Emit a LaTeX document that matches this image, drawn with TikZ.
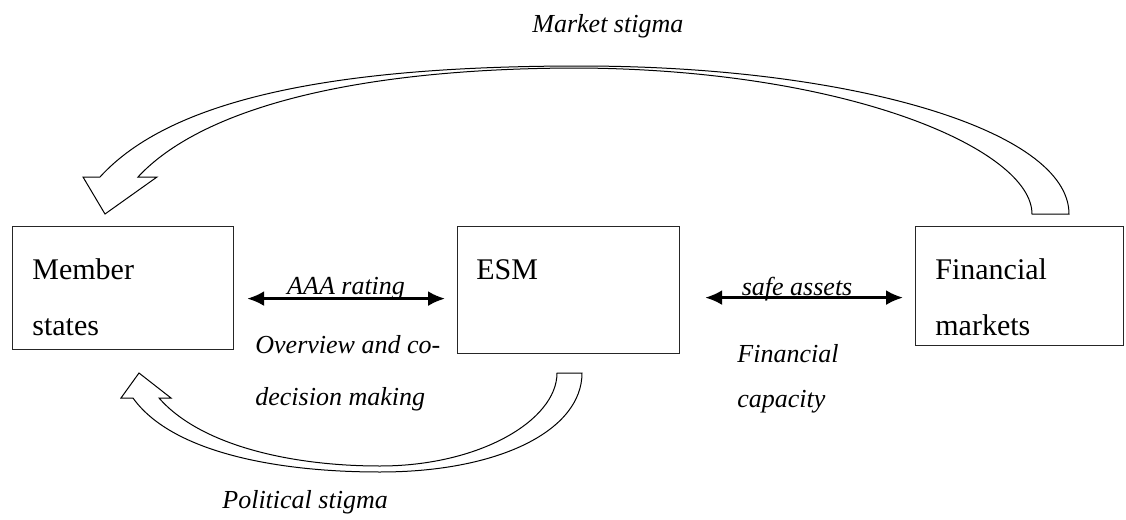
\documentclass[tikz,border=0pt]{standalone}
\usepackage{fontspec}
\setmainfont{Liberation Serif}
\usetikzlibrary{arrows.meta}

\begin{document}
\begin{tikzpicture}[x=0.5pt,y=-0.5pt]
\tikzstyle{box}=[rectangle, draw=black!85, line width=0.6pt, anchor=north west, inner sep=0pt]
\tikzstyle{boxtext}=[anchor=base west, inner sep=0pt, font=\fontsize{15}{18}\selectfont]
\tikzstyle{note}=[anchor=base west, inner sep=0pt, font=\fontsize{13}{16}\selectfont\itshape]
\tikzstyle{connect}=[{Latex[length=8.5pt,width=7.5pt]}-{Latex[length=8.5pt,width=7.5pt]}, line width=1.3pt]
\tikzstyle{bent}=[draw=black, fill=white, line width=0.5pt, line join=miter]
\useasboundingbox (0,0) rectangle (1126,520);
  % member states
  \node[box, minimum width=110.5pt, minimum height=61.5pt] (member) at (12,226) {};
  \node[boxtext] (memberA) at (32,279) {Member};
  \node[boxtext] (memberB) at (32,335) {states};
  % esm
  \node[box, minimum width=111pt, minimum height=63.5pt] (esm) at (457,226) {};
  \node[boxtext] (esmA) at (476,279) {ESM};
  % financial markets
  \node[box, minimum width=104pt, minimum height=59.5pt] (fin) at (915,226) {};
  \node[boxtext] (finA) at (935,279) {Financial};
  \node[boxtext] (finB) at (935,335) {markets};
  % two-way links
  \draw[connect] ([shift={(13,10.5)}]member.east) -- ([shift={(-12,8.5)}]esm.west)
    node[midway, anchor=base, inner sep=0pt, yshift=2pt, font=\fontsize{13}{16}\selectfont\itshape] (aaa) {AAA rating};
  \draw[connect] ([shift={(25,7.5)}]esm.east) -- ([shift={(-12,11.5)}]fin.west)
    node[midway, anchor=base, inner sep=0pt, yshift=1pt, xshift=-3.5pt, font=\fontsize{13}{16}\selectfont\itshape] (safe) {safe assets};
  \node[note] (overA) at (255,353) {Overview and co-};
  \node[note] (overB) at (255,405) {decision making};
  \node[note] (capA) at (737,362) {Financial};
  \node[note] (capB) at (737,407) {capacity};
  % market stigma arrow
  \draw[bent] (1069,214) .. controls (1069,130) and (850,66) .. (580,66)
    .. controls (330,66) and (170,100) .. (100,177) -- (83,177) -- (105,214)
    -- (157,177) -- (138,177) .. controls (200,110) and (350,68) .. (580,68)
    .. controls (850,70) and (1032,150) .. (1032,214) -- cycle;
  \node[note] (market) at (532,32) {Market stigma};
  % political stigma arrow
  \draw[bent] (557,373) -- (582,373) .. controls (582,430) and (500,472) .. (380,472)
    .. controls (270,472) and (170,450) .. (133,398) -- (121,398) -- (139,373)
    -- (171,398) -- (159,398) .. controls (200,445) and (290,466) .. (380,466)
    .. controls (480,466) and (557,420) .. (557,373) -- cycle;
  \node[note] (political) at (222,508) {Political stigma};
\end{tikzpicture}
\end{document}
